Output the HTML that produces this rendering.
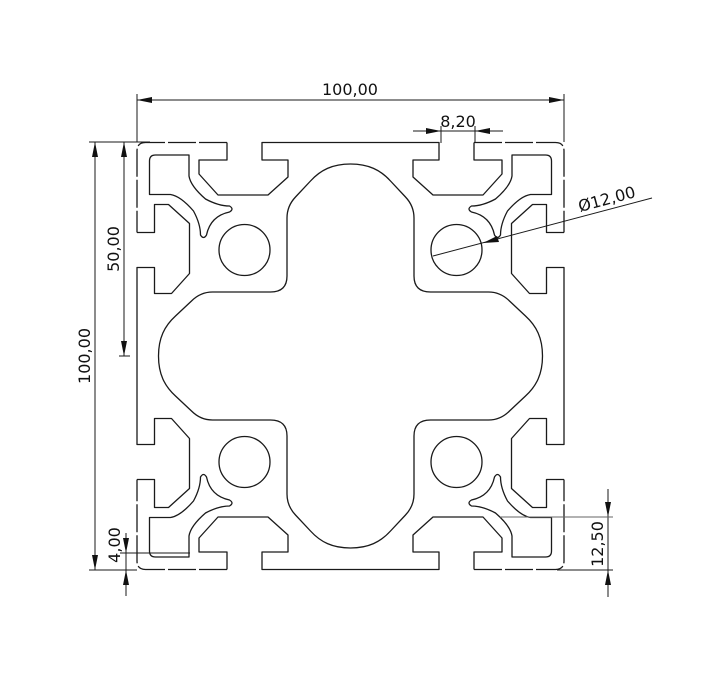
<!DOCTYPE html>
<html><head><meta charset="utf-8"><style>
html,body{margin:0;padding:0;background:#fff;width:710px;height:686px;overflow:hidden}
svg{display:block}
text{font-family:"DejaVu Sans","Liberation Sans",sans-serif;font-size:16px;fill:#111}
</style></head><body>
<svg width="710" height="686" viewBox="0 0 710 686" xmlns="http://www.w3.org/2000/svg">
<defs>
<g id="q" fill="none" stroke="#1a1a1a" stroke-width="1.3" stroke-linejoin="round">
  <path d="M0,-213.5 L-88.5,-213.5 L-88.5,-196 L-62.5,-196 L-62.5,-179 L-82.5,-161 L-132.5,-161 L-151.5,-182 L-151.5,-196 L-123.5,-196 L-123.5,-213.5"/>
  <path d="M-123.5,-213.5 L-205,-213.5 Q-213.5,-213.5 -213.5,-205 L-213.5,-123.5" stroke-dasharray="28,3"/>
  <path d="M-213.5,-123.5 L-196,-123.5 L-196,-151.5 L-182,-151.5 L-161,-132.5 L-161,-82.5 L-179,-62.5 L-196,-62.5 L-196,-88.5 L-213.5,-88.5 L-213.5,0"/>
  <path d="M-195,-201 L-161.5,-201 L-161.5,-180 Q-160,-170 -145,-157 Q-132,-150 -121,-150 Q-116,-147 -121,-144 Q-140,-140 -144,-121 Q-147,-116 -150,-121 Q-150,-132 -157,-145 Q-170,-160 -180,-161.5 L-201,-161.5 L-201,-195 Q-201,-201 -195,-201 Z"/>
  <path d="M0,-192 C-18,-192 -30,-186 -40,-175 L-55,-159 Q-63.5,-150 -63.5,-138 L-63.5,-80 Q-63.5,-64 -80,-64 L-138,-64 Q-150,-64 -159,-55 L-175,-40 C-186,-30 -192,-18 -192,0"/>
  <circle cx="-106" cy="-106" r="25.5"/>
</g>
</defs>
<g transform="translate(350.5,356)">
  <use href="#q"/>
  <use href="#q" transform="scale(-1,1)"/>
  <use href="#q" transform="scale(1,-1)"/>
  <use href="#q" transform="scale(-1,-1)"/>
</g>

<g stroke="#1a1a1a" stroke-width="1" fill="none">
  <line x1="137" y1="94" x2="137" y2="142"/>
  <line x1="564" y1="94" x2="564" y2="142"/>
  <line x1="137" y1="100" x2="564" y2="100"/>
  <line x1="441" y1="126" x2="441" y2="143"/>
  <line x1="475" y1="126" x2="475" y2="143"/>
  <line x1="413" y1="131" x2="503" y2="131"/>
  <line x1="89" y1="142" x2="150" y2="142"/>
  <line x1="89" y1="570" x2="137" y2="570"/>
  <line x1="95" y1="142" x2="95" y2="570"/>
  <line x1="124" y1="142" x2="124" y2="356"/>
  <line x1="119" y1="356" x2="130" y2="356"/>
  <line x1="126" y1="533" x2="126" y2="596"/>
  <line x1="120" y1="553" x2="190" y2="553"/>
  <line x1="608" y1="489" x2="608" y2="597"/>
  <line x1="500" y1="517" x2="613" y2="517" stroke="#666"/>
  <line x1="557" y1="570" x2="613" y2="570"/>
  <line x1="433" y1="256" x2="652" y2="198"/>
</g>
<g fill="#111">
  <path d="M137,100 L152,97 L152,103 Z"/>
  <path d="M564,100 L549,97 L549,103 Z"/>
  <path d="M441,131 L426,128 L426,134 Z"/>
  <path d="M475,131 L490,128 L490,134 Z"/>
  <path d="M95,142 L92,157 L98,157 Z"/>
  <path d="M95,570 L92,555 L98,555 Z"/>
  <path d="M124,142 L121,157 L127,157 Z"/>
  <path d="M124,356 L121,341 L127,341 Z"/>
  <path d="M126,553 L123,538 L129,538 Z"/>
  <path d="M126,570 L123,585 L129,585 Z"/>
  <path d="M608,517 L605,502 L611,502 Z"/>
  <path d="M608,570 L605,585 L611,585 Z"/>
  <path d="M483,243 L497,236 L499,242 Z"/>
</g>

<text x="350" y="95" text-anchor="middle">100,00</text>
<text x="458" y="127" text-anchor="middle">8,20</text>
<text transform="translate(90,356) rotate(-90)" text-anchor="middle">100,00</text>
<text transform="translate(119,249) rotate(-90)" text-anchor="middle">50,00</text>
<text transform="translate(120,545) rotate(-90)" text-anchor="middle">4,00</text>
<text transform="translate(603,544) rotate(-90)" text-anchor="middle">12,50</text>
<text transform="translate(580,212) rotate(-15)">Ø12,00</text>
</svg>
</body></html>
